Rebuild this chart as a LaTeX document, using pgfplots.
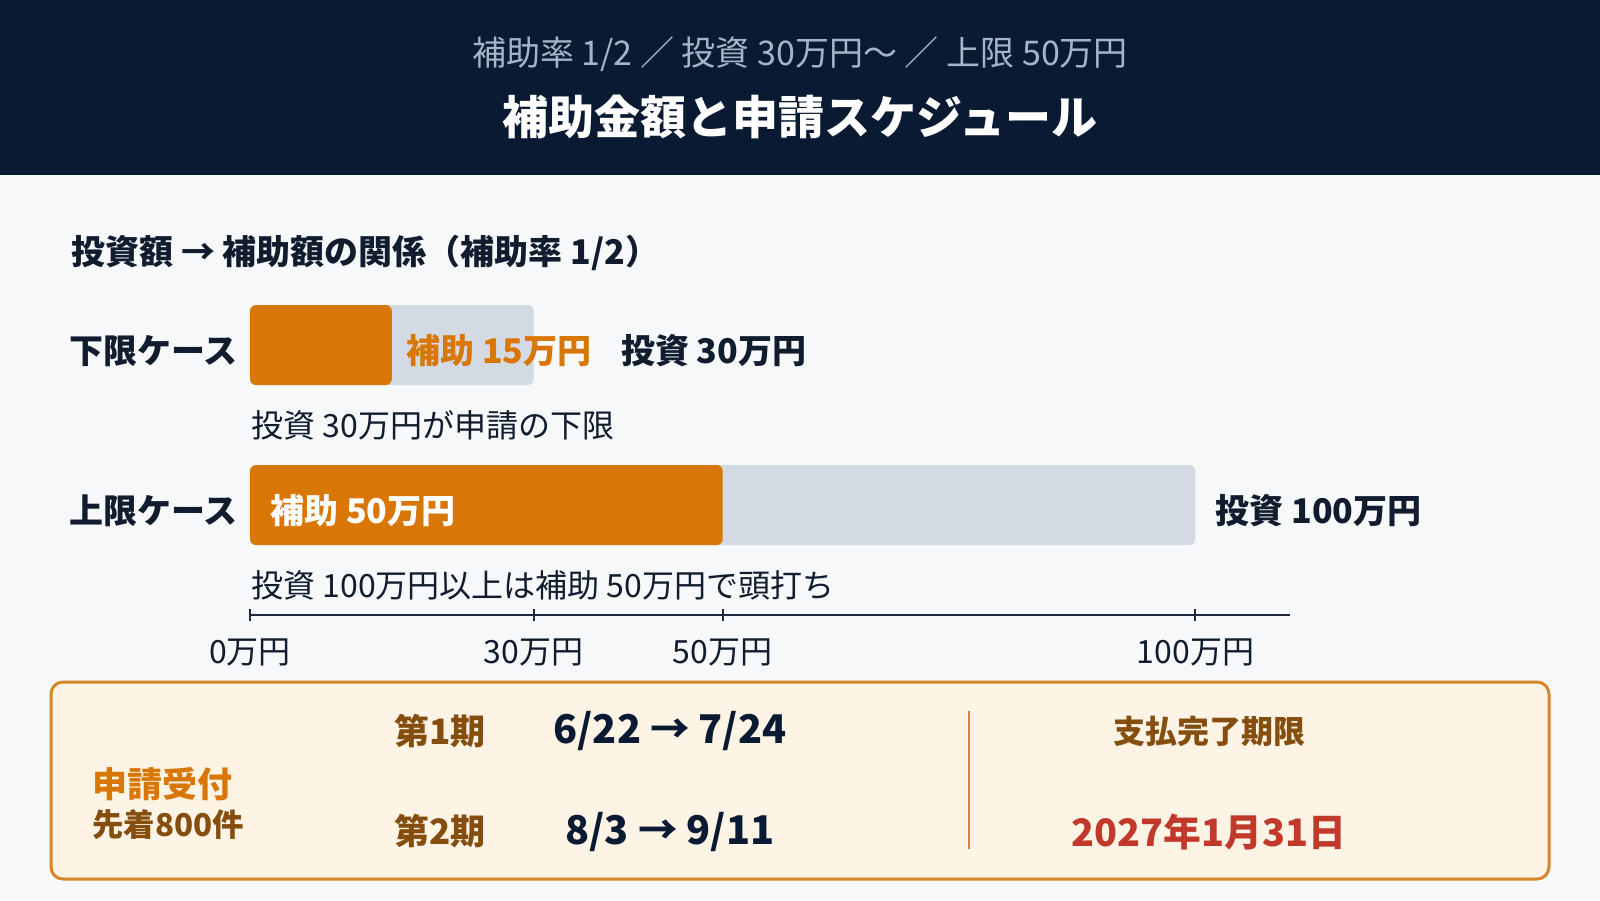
\documentclass[border=0pt]{standalone}
\usepackage{fontspec}
\setmainfont{Noto Sans CJK JP}
\usepackage{pgfplots}
\pgfplotsset{compat=1.18}
\definecolor{navy}{HTML}{0B1A33}
\definecolor{subcol}{HTML}{A7B4C8}
\definecolor{bgcol}{HTML}{F6F8FA}
\definecolor{ink}{HTML}{111C2E}
\definecolor{orng}{HTML}{D97706}
\definecolor{bargray}{HTML}{D3DAE4}
\definecolor{axiscol}{HTML}{1F2A3C}
\definecolor{boxfill}{HTML}{FEF4E5}
\definecolor{boxline}{HTML}{D6852A}
\definecolor{brown}{HTML}{854D0E}
\definecolor{dred}{HTML}{C0392B}
\newcommand{\fs}[1]{\fontsize{#1}{#1}\selectfont}
\begin{document}
\begin{tikzpicture}[x=0.5pt,y=-0.5pt]
\fill[bgcol] (0,0) rectangle (1600,900);
\fill[navy] (0,0) rectangle (1600,175);
\node[text=subcol, font=\fs{17pt}] at (800,54) {補助率 1/2 ／ 投資 30万円〜 ／ 上限 50万円};
\node[text=white, font=\fs{23pt}\bfseries] at (800,117) {補助金額と申請スケジュール};
\node[anchor=west, text=ink, font=\fs{17pt}\bfseries, inner sep=0pt] at (71,253) {投資額 → 補助額の関係（補助率 1/2）};

\begin{axis}[
  at={(125pt,-307.5pt)}, anchor=south west,
  scale only axis, width=520pt, height=160pt,
  xmin=0, xmax=110, ymin=-615, ymax=-295,
  enlargelimits=false, clip=false,
  axis x line*=bottom, axis y line=none,
  axis line style={line width=1pt, axiscol},
  xtick={0,30,50,100},
  xticklabels={0万円,30万円,50万円,100万円},
  xticklabel style={anchor=center, yshift=-15.5pt, font=\fs{16pt}, text=ink},
  ytick=\empty,
  major tick length=6pt, tick align=center,
  tick style={line width=1pt, axiscol},
]
\addplot[xbar, bar width=80, bar shift=0pt, fill=bargray, draw=none, rounded corners=3pt]
  coordinates {(30,-345) (100,-505)};
\addplot[xbar, bar width=80, bar shift=0pt, fill=orng, draw=none, rounded corners=3pt]
  coordinates {(15,-345) (50,-505)};
\node[anchor=east, text=ink, font=\fs{17pt}\bfseries, inner sep=0pt, xshift=-6pt] at (axis cs:0,-351) {下限ケース};
\node[anchor=east, text=ink, font=\fs{17pt}\bfseries, inner sep=0pt, xshift=-6pt] at (axis cs:0,-511) {上限ケース};
\node[anchor=west, text=orng, font=\fs{17pt}\bfseries, inner sep=0pt] at (axis cs:16.5,-351) {補助 15万円};
\node[anchor=west, text=ink, font=\fs{17pt}\bfseries, inner sep=0pt] at (axis cs:39.2,-351) {投資 30万円};
\node[anchor=west, text=white, font=\fs{17pt}\bfseries, inner sep=0pt] at (axis cs:2.1,-511) {補助 50万円};
\node[anchor=west, text=ink, font=\fs{17pt}\bfseries, inner sep=0pt] at (axis cs:102.1,-511) {投資 100万円};
\node[anchor=west, text=ink, font=\fs{16pt}, inner sep=0pt] at (axis cs:0.1,-425) {投資 30万円が申請の下限};
\node[anchor=west, text=ink, font=\fs{16pt}, inner sep=0pt] at (axis cs:0.1,-585) {投資 100万円以上は補助 50万円で頭打ち};
\end{axis}

\draw[boxline, line width=1.5pt, fill=boxfill, rounded corners=6pt] (51,682) rectangle (1549,879);
\draw[boxline, line width=1pt] (969,711) -- (969,849);
\node[anchor=west, text=orng, font=\fs{17.5pt}\bfseries, inner sep=0pt] at (92,784) {申請受付};
\node[anchor=west, text=brown, font=\fs{15.7pt}\bfseries, inner sep=0pt] at (92,825) {先着800件};
\node[text=brown, font=\fs{17.5pt}\bfseries] at (440,731) {第1期};
\node[text=brown, font=\fs{17.5pt}\bfseries] at (440,831) {第2期};
\node[text=navy, font=\fs{19.8pt}\bfseries] at (670,731) {6/22 → 7/24};
\node[text=navy, font=\fs{19.8pt}\bfseries] at (670,832) {8/3 → 9/11};
\node[text=brown, font=\fs{16pt}\bfseries] at (1209,731) {支払完了期限};
\node[text=dred, font=\fs{18.9pt}\bfseries] at (1209,832) {2027年1月31日};
\pgfresetboundingbox
\path[use as bounding box] (0,0) rectangle (1600,900);
\end{tikzpicture}
\end{document}
